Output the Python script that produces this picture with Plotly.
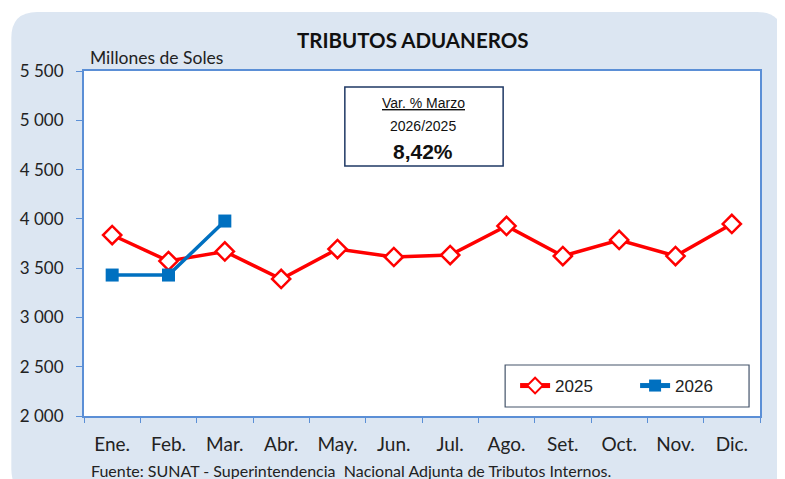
import plotly.graph_objects as go

months = ["Ene.", "Feb.", "Mar.", "Abr.", "May.", "Jun.", "Jul.", "Ago.", "Set.", "Oct.", "Nov.", "Dic."]
serie_2025 = [3836, 3572, 3669, 3390, 3694, 3613, 3633, 3928, 3623, 3786, 3623, 3948]
serie_2026 = [3430, 3430, 3978]
y_ticks = [2000, 2500, 3000, 3500, 4000, 4500, 5000, 5500]
y_tick_labels = ["2 000", "2 500", "3 000", "3 500", "4 000", "4 500", "5 000", "5 500"]

# page offset (browser body margin)
OFF = 8
W, H = 785 - OFF, 479 - OFF
# plot area in page pixels
PX0, PX1, PY0, PY1 = 81, 760, 71, 416
L, R, T, B = PX0 - OFF, W - (PX1 - OFF), PY0 - OFF, H - (PY1 - OFF)
PW, PH = PX1 - PX0, PY1 - PY0


def px(x):
    return (x - PX0) / PW


def py(y):
    return (PY1 - y) / PH


def rounded_rect(x0, y0, x1, y1, r):
    return (
        f"M {px(x0 + r)},{py(y0)} L {px(x1 - r)},{py(y0)} "
        f"Q {px(x1)},{py(y0)} {px(x1)},{py(y0 + r)} "
        f"L {px(x1)},{py(y1 - r)} Q {px(x1)},{py(y1)} {px(x1 - r)},{py(y1)} "
        f"L {px(x0 + r)},{py(y1)} Q {px(x0)},{py(y1)} {px(x0)},{py(y1 - r)} "
        f"L {px(x0)},{py(y0 + r)} Q {px(x0)},{py(y0)} {px(x0 + r)},{py(y0)} Z"
    )


fig = go.Figure()
fig.add_trace(go.Scatter(
    x=months, y=serie_2025, name="2025", mode="lines+markers",
    line=dict(color="#FF0000", width=3.5),
    marker=dict(symbol="diamond", size=14, color="white", line=dict(color="#FF0000", width=2.5)),
))
fig.add_trace(go.Scatter(
    x=months[:len(serie_2026)], y=serie_2026, name="2026", mode="lines+markers",
    line=dict(color="#0070C0", width=3.5),
    marker=dict(symbol="square", size=13, color="#0070C0"),
))

axis_col = "#5B8FD6"
fig.update_layout(
    width=W, height=H,
    margin=dict(l=L, r=R, t=T, b=B, pad=0),
    paper_bgcolor="white",
    plot_bgcolor="white",
    font=dict(family="Lato", color="#222222"),
    showlegend=True,
    legend=dict(
        orientation="h", x=px(514), xanchor="left", y=py(368), yanchor="top",
        bgcolor="rgba(0,0,0,0)", borderwidth=0,
        font=dict(family="Liberation Sans", size=17, color="#222222"),
        entrywidth=75, itemsizing="constant",
    ),
    xaxis=dict(
        type="category", showline=True, linecolor=axis_col, linewidth=2, mirror=True,
        ticks="outside", tickson="boundaries", ticklen=5, tickcolor=axis_col,
        showgrid=False, tickfont=dict(family="Lato", size=19, color="#222222"),
        range=[-0.5, 11.5], ticklabelstandoff=10,
    ),
    yaxis=dict(
        range=[2000, 5500], tickvals=y_ticks, ticktext=y_tick_labels,
        showline=True, linecolor=axis_col, linewidth=2, mirror=True,
        ticks="outside", ticklen=6, tickcolor=axis_col, showgrid=False, zeroline=False,
        tickfont=dict(family="Lato", size=17, color="#222222"), ticklabelstandoff=9,
    ),
    shapes=[
        dict(type="path", xref="paper", yref="paper", layer="below",
             path=rounded_rect(8, 12, 783, 495, 26),
             fillcolor="#DCE6F2", line=dict(width=0)),
        dict(type="rect", xref="paper", yref="paper", layer="below",
             x0=0, x1=1, y0=0, y1=1, fillcolor="white", line=dict(width=0)),
        dict(type="rect", xref="paper", yref="paper",
             x0=px(343), x1=px(502), y0=py(166), y1=py(87),
             fillcolor="white", line=dict(color="#1F3864", width=1.5)),
        dict(type="rect", xref="paper", yref="paper",
             x0=px(504), x1=px(749), y0=py(407), y1=py(365),
             fillcolor="white", line=dict(color="#44546A", width=1.2)),
    ],
    annotations=[
        dict(text="<b>TRIBUTOS ADUANEROS</b>", xref="paper", yref="paper",
             x=px(411), y=py(40), xanchor="center", yanchor="middle", showarrow=False,
             font=dict(family="Lato", size=20.5, color="#111111")),
        dict(text="Millones de Soles", xref="paper", yref="paper",
             x=px(85), y=py(58), xanchor="left", yanchor="middle", showarrow=False,
             font=dict(family="Lato", size=17.5, color="#222222")),
        dict(text="<u>Var. % Marzo</u>", xref="paper", yref="paper",
             x=px(422), y=py(103), xanchor="center", yanchor="middle", showarrow=False,
             font=dict(family="Liberation Sans", size=14, color="#111111")),
        dict(text="2026/2025", xref="paper", yref="paper",
             x=px(422), y=py(126), xanchor="center", yanchor="middle", showarrow=False,
             font=dict(family="Liberation Sans", size=14, color="#111111")),
        dict(text="<b>8,42%</b>", xref="paper", yref="paper",
             x=px(422), y=py(151), xanchor="center", yanchor="middle", showarrow=False,
             font=dict(family="Liberation Sans", size=21, color="#111111")),
        dict(text="Fuente: SUNAT - Superintendencia  Nacional Adjunta de Tributos Internos.",
             xref="paper", yref="paper",
             x=px(86), y=py(470), xanchor="left", yanchor="middle", showarrow=False,
             font=dict(family="Lato", size=16, color="#222222")),
    ],
)

fig.write_html("out.html")
